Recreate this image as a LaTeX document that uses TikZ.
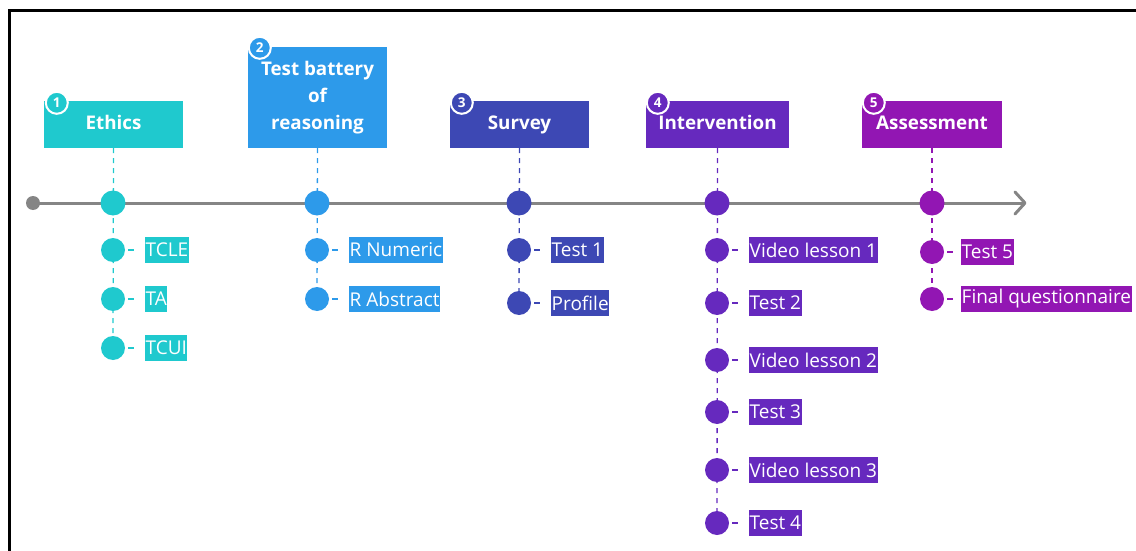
\documentclass[tikz,border=0pt]{standalone}
\usepackage{fontspec}
\setmainfont{Open Sans}
\usetikzlibrary{backgrounds}
\definecolor{cA}{HTML}{1FC9CE}
\definecolor{cB}{HTML}{2D9AEA}
\definecolor{cC}{HTML}{3D48B4}
\definecolor{cD}{HTML}{6629BE}
\definecolor{cE}{HTML}{9216B3}
\definecolor{tl}{HTML}{858585}
\tikzset{
  hdr/.style={fill=#1, text=white, font=\bfseries\fontsize{18.8}{27}\selectfont, align=center, inner sep=0pt, minimum height=47pt, minimum width=139pt},
  onehdr/.style={hdr=#1, text height=14pt, text depth=4pt},
  badge/.style={circle, fill=#1, draw=white, line width=2pt, minimum size=22pt, inner sep=0pt, text=white, font=\bfseries\fontsize{13.5}{13.5}\selectfont},
  dot/.style={circle, fill=#1, minimum size=25pt, inner sep=0pt},
  sub/.style={circle, fill=#1, minimum size=24pt, inner sep=0pt},
  lbl/.style={fill=#1, text=white, anchor=west, font=\fontsize{19}{22}\selectfont, inner xsep=0.5pt, inner ysep=0pt, minimum height=26pt},
  vdash/.style={draw=#1, dash pattern=on 5pt off 5pt, line width=1.3pt},
  tick/.style={draw=#1, line width=1.3pt, shorten <=3pt, shorten >=11pt},
}
\begin{document}
\begin{tikzpicture}[x=1pt,y=-1pt]
\useasboundingbox (0,0) rectangle (1136,551);
% frame
\draw[line width=3pt] (9,551) -- (9,11) -- (1136,11);

% timeline
\node[circle, fill=tl, minimum size=14pt, inner sep=0pt] (start) at (33,203) {};
\coordinate (tend) at (1025,203);

% headers
\node[onehdr=cA] (h1) at (113.5,124.5) {Ethics};
\node[hdr=cB, minimum height=101pt] (h2) at (317.5,97.5) {Test battery\\of\\reasoning};
\node[onehdr=cC] (h3) at (519.5,124.5) {Survey};
\node[onehdr=cD, minimum width=143pt] (h4) at (717.5,124.5) {Intervention};
\node[onehdr=cE, minimum width=140pt] (h5) at (932,124.5) {Assessment};

\node[badge=cA] (b1) at ([shift={(13,2)}]h1.north west) {1};
\node[badge=cB] (b2) at ([shift={(12,1)}]h2.north west) {2};
\node[badge=cC] (b3) at ([shift={(12,2)}]h3.north west) {3};
\node[badge=cD] (b4) at ([shift={(12,2)}]h4.north west) {4};
\node[badge=cE] (b5) at ([shift={(12,2)}]h5.north west) {5};

% main dots
\node[dot=cA] (d1) at (113,203) {};
\node[dot=cB] (d2) at (317,203) {};
\node[dot=cC] (d3) at (519,203) {};
\node[dot=cD] (d4) at (717,203) {};
\node[dot=cE] (d5) at (932,203) {};

% stage 1
\node[sub=cA] (s11) at (113,250) {};
\node[sub=cA] (s12) at (113,299) {};
\node[sub=cA] (s13) at (113,348) {};
\node[lbl=cA] (l11) at (145,250) {TCLE};
\node[lbl=cA] (l12) at (145,299) {TA};
\node[lbl=cA] (l13) at (145,348) {TCUI};

% stage 2
\node[sub=cB] (s21) at (317,250) {};
\node[sub=cB] (s22) at (317,299) {};
\node[lbl=cB] (l21) at (349,250) {R Numeric};
\node[lbl=cB] (l22) at (349,299) {R Abstract};

% stage 3
\node[sub=cC] (s31) at (519,250) {};
\node[sub=cC] (s32) at (519,303) {};
\node[lbl=cC] (l31) at (551,250) {Test 1};
\node[lbl=cC] (l32) at (551,303) {Profile};

% stage 4
\node[sub=cD] (s41) at (717,250) {};
\node[sub=cD] (s42) at (717,303) {};
\node[sub=cD] (s43) at (717,360) {};
\node[sub=cD] (s44) at (717,412) {};
\node[sub=cD] (s45) at (717,470) {};
\node[sub=cD] (s46) at (717,523) {};
\node[lbl=cD] (l41) at (749,250) {Video lesson 1};
\node[lbl=cD] (l42) at (749,303) {Test 2};
\node[lbl=cD] (l43) at (749,360) {Video lesson 2};
\node[lbl=cD] (l44) at (749,412) {Test 3};
\node[lbl=cD] (l45) at (749,470) {Video lesson 3};
\node[lbl=cD] (l46) at (749,523) {Test 4};

% stage 5
\node[sub=cE] (s51) at (932,252) {};
\node[sub=cE] (s52) at (932,299) {};
\node[lbl=cE] (l51) at (961,252) {Test 5};
\node[lbl=cE] (l52) at (961,299) {Final questionnaire};

\begin{scope}[on background layer]
  \draw[tl, line width=3pt] (start.center) -- (tend);
  \draw[tl, line width=3pt, line cap=round, line join=round] ([shift={(-10,-11)}]tend) -- (tend) -- ([shift={(-10,11)}]tend);
  \draw[vdash=cA] (h1.south) -- (s13.center);
  \draw[vdash=cB] (h2.south) -- (s22.center);
  \draw[vdash=cC] (h3.south) -- (s32.center);
  \draw[vdash=cD] (h4.south) -- (s46.center);
  \draw[vdash=cE] (h5.south) -- (s52.center);
\end{scope}

% ticks
\draw[tick=cA] (s11.east) -- (l11.west);
\draw[tick=cA] (s12.east) -- (l12.west);
\draw[tick=cA] (s13.east) -- (l13.west);
\draw[tick=cB] (s21.east) -- (l21.west);
\draw[tick=cB] (s22.east) -- (l22.west);
\draw[tick=cC] (s31.east) -- (l31.west);
\draw[tick=cC] (s32.east) -- (l32.west);
\draw[tick=cD] (s41.east) -- (l41.west);
\draw[tick=cD] (s42.east) -- (l42.west);
\draw[tick=cD] (s43.east) -- (l43.west);
\draw[tick=cD] (s44.east) -- (l44.west);
\draw[tick=cD] (s45.east) -- (l45.west);
\draw[tick=cD] (s46.east) -- (l46.west);
\draw[tick=cE, shorten >=8pt] (s51.east) -- (l51.west);
\draw[tick=cE, shorten >=8pt] (s52.east) -- (l52.west);
\end{tikzpicture}
\end{document}
